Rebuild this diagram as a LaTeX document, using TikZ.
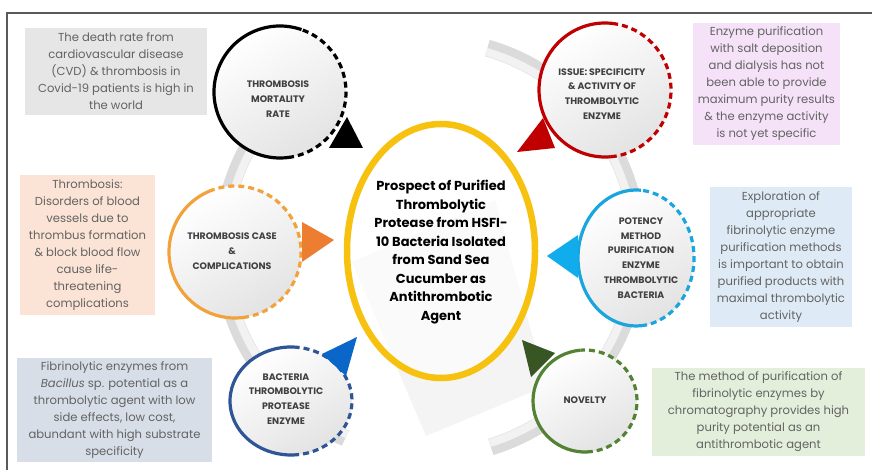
\documentclass[tikz,border=0pt]{standalone}
\usepackage{fontspec}
\setmainfont{Poppins}
\usetikzlibrary{shapes.geometric}
\definecolor{framegray}{HTML}{5A5A5A}
\definecolor{txtgray}{HTML}{636363}
\definecolor{lblgray}{HTML}{404040}
\definecolor{bxgray}{HTML}{E6E6E6}
\definecolor{bxorange}{HTML}{FBE4D6}
\definecolor{bxblue}{HTML}{D8DEE8}
\definecolor{bxpink}{HTML}{F6E2F8}
\definecolor{bxlblue}{HTML}{DEEBF7}
\definecolor{bxgreen}{HTML}{E3EFDB}
\definecolor{cblack}{HTML}{000000}
\definecolor{cred}{HTML}{C00000}
\definecolor{corange}{HTML}{F2A23A}
\definecolor{torange}{HTML}{ED7D31}
\definecolor{cblue}{HTML}{2F5597}
\definecolor{tblue}{HTML}{0A66C8}
\definecolor{ccyan}{HTML}{1AA5DE}
\definecolor{tcyan}{HTML}{11ACEB}
\definecolor{cgreen}{HTML}{548235}
\definecolor{tgreen}{HTML}{375623}
\definecolor{cyellow}{HTML}{F7C10F}
\tikzset{
  infobox/.style={fill=#1, align=center, inner sep=0pt, text=txtgray,
    font=\fontsize{11.6}{17}\selectfont},
  bubble/.style={ellipse, inner sep=0pt, shading=axis, top color=white,
    bottom color=gray!22, shading angle=30},
  bubblelabel/.style={align=center, text=lblgray,
    font=\bfseries\fontsize{9.4}{14.7}\selectfont},
  solidarc/.style={line width=3.2pt, draw=#1},
  dasharc/.style={line width=3.2pt, draw=#1, dash pattern=on 6pt off 4pt},
  ringout/.style={line width=17pt, draw=gray!28},
  ringin/.style={line width=8pt, draw=gray!10},
}
\begin{document}
\begin{tikzpicture}[x=1pt,y=-1pt]
\useasboundingbox (0,0) rectangle (872,470);
\fill[white] (0,0) rectangle (872,470);
% frame
\draw[line width=1.4pt, framegray] (7,472) -- (7,13) -- (874,13);

% ring
\coordinate (rc) at (430,248);
\draw[ringout] ([shift={(73:208)}]rc) arc[start angle=73, end angle=-74, radius=208];
\draw[ringin]  ([shift={(73:204)}]rc) arc[start angle=73, end angle=-74, radius=204];
\draw[ringout] ([shift={(-116:208)}]rc) arc[start angle=-116, end angle=-246, radius=208];
\draw[ringin]  ([shift={(-116:204)}]rc) arc[start angle=-116, end angle=-246, radius=204];

% rotated square behind centre
\fill[gray!9] (352,262) -- (495,200) -- (546,386) -- (426,436) -- cycle;

% centre ellipse
\node[ellipse, minimum width=188pt, minimum height=254pt, draw=cyellow,
  line width=6.5pt, fill=white, fill opacity=0.55, text opacity=1] (ctr) at (441,251) {};
\node[align=center, font=\bfseries\fontsize{13}{18.5}\selectfont, text=black] (ctrtxt) at (441,252)
  {Prospect of Purified\\Thrombolytic\\Protease from HSFI-\\10 Bacteria Isolated\\from Sand Sea\\Cucumber as\\Antithrombotic\\Agent};

% bubbles
% mortality
\node[bubble, minimum width=132pt, minimum height=132pt] (mort) at (280,92) {};
\draw[solidarc=cblack] ([shift={(-71:66)}]mort.center) arc[start angle=-71, end angle=-277, radius=66];
\draw[dasharc=cblack] ([shift={(-277:66)}]mort.center) arc[start angle=-277, end angle=-431, radius=66];
\node[bubblelabel] at (278,99) {THROMBOSIS\\MORTALITY\\RATE};

% case
\node[bubble, minimum width=132pt, minimum height=132pt] (case) at (235,252) {};
\draw[solidarc=corange] ([shift={(-109:66)}]case.center) arc[start angle=-109, end angle=-277, radius=66];
\draw[dasharc=corange] ([shift={(-277:66)}]case.center) arc[start angle=-277, end angle=-469, radius=66];
\node[bubblelabel] at (232,251) {THROMBOSIS CASE\\\&\\COMPLICATIONS};

% bacteria
\node[bubble, minimum width=122pt, minimum height=108pt] (bact) at (291,401) {};
\draw[solidarc=cblue] ([shift={(-82:61 and 54)}]bact.center) arc[start angle=-82, end angle=-272, x radius=61, y radius=54];
\draw[dasharc=cblue] ([shift={(-272:61 and 54)}]bact.center) arc[start angle=-272, end angle=-442, x radius=61, y radius=54];
\node[bubblelabel] at (286,399) {BACTERIA\\THROMBOLYTIC\\PROTEASE\\ENZYME};

% issue
\node[bubble, minimum width=132pt, minimum height=134pt] (issue) at (605,90) {};
\draw[solidarc=cred] ([shift={(-83:66 and 67)}]issue.center) arc[start angle=-83, end angle=-275, x radius=66, y radius=67];
\draw[dasharc=cred] ([shift={(-275:66 and 67)}]issue.center) arc[start angle=-275, end angle=-443, x radius=66, y radius=67];
\node[bubblelabel] at (602,94) {ISSUE: SPECIFICITY\\\& ACTIVITY OF\\THROMBOLYTIC\\ENZYME};

% potency
\node[bubble, minimum width=116pt, minimum height=136pt] (pot) at (636,258) {};
\draw[solidarc=ccyan] ([shift={(-85:58 and 68)}]pot.center) arc[start angle=-85, end angle=-275, x radius=58, y radius=68];
\draw[dasharc=ccyan] ([shift={(-275:58 and 68)}]pot.center) arc[start angle=-275, end angle=-445, x radius=58, y radius=68];
\node[bubblelabel] at (641,258) {POTENCY\\METHOD\\PURIFICATION\\ENZYME\\THROMBOLYTIC\\BACTERIA};

% novelty
\node[bubble, minimum width=104pt, minimum height=102pt] (nov) at (585,401) {};
\draw[solidarc=cgreen] ([shift={(-95:52 and 51)}]nov.center) arc[start angle=-95, end angle=-272, x radius=52, y radius=51];
\draw[dasharc=cgreen] ([shift={(-272:52 and 51)}]nov.center) arc[start angle=-272, end angle=-455, x radius=52, y radius=51];
\node[bubblelabel] at (585,400) {NOVELTY};

% triangles
\fill[cblack]  (329,148) -- (363,148) -- (347,117) -- cycle;
\fill[cred]    (517,152) -- (555,148) -- (543,118) -- cycle;
\fill[torange] (302,222) -- (302,262) -- (334,240) -- cycle;
\fill[tcyan]   (547,256) -- (578,235) -- (578,278) -- cycle;
\fill[tblue]   (322,354) -- (357,337) -- (346,376) -- cycle;
\fill[tgreen]  (522,340) -- (555,353) -- (531,377) -- cycle;

% info boxes
\node[infobox=bxgray, minimum width=182pt, minimum height=87pt] (b1) at (116,71.5)
  {The death rate from\\cardiovascular disease\\(CVD) \& thrombosis in\\Covid-19 patients is high in\\the world};
\node[infobox=bxorange, minimum width=135pt, minimum height=140pt] (b2) at (87.5,245)
  {Thrombosis:\\Disorders of blood\\vessels due to\\thrombus formation\\\& block blood flow\\cause life-\\threatening\\complications};
\node[infobox=bxblue, minimum width=195pt, minimum height=104pt] (b3) at (114.5,410)
  {Fibrinolytic enzymes from\\\textit{Bacillus} sp. potential as a\\thrombolytic agent with low\\side effects, low cost,\\abundant with high substrate\\specificity};
\node[infobox=bxpink, minimum width=147pt, minimum height=122pt] (b4) at (766.5,84)
  {Enzyme purification\\with salt deposition\\and dialysis has not\\been able to provide\\maximum purity results\\\& the enzyme activity\\is not yet specific};
\node[infobox=bxlblue, minimum width=142pt, minimum height=140pt] (b5) at (781,257)
  {Exploration of\\appropriate\\fibrinolytic enzyme\\purification methods\\is important to obtain\\purified products with\\maximal thrombolytic\\activity};
\node[infobox=bxgreen, minimum width=213pt, minimum height=88pt] (b6) at (758.5,412)
  {The method of purification of\\fibrinolytic enzymes by\\chromatography provides high\\purity potential as an\\antithrombotic agent};
\end{tikzpicture}
\end{document}
